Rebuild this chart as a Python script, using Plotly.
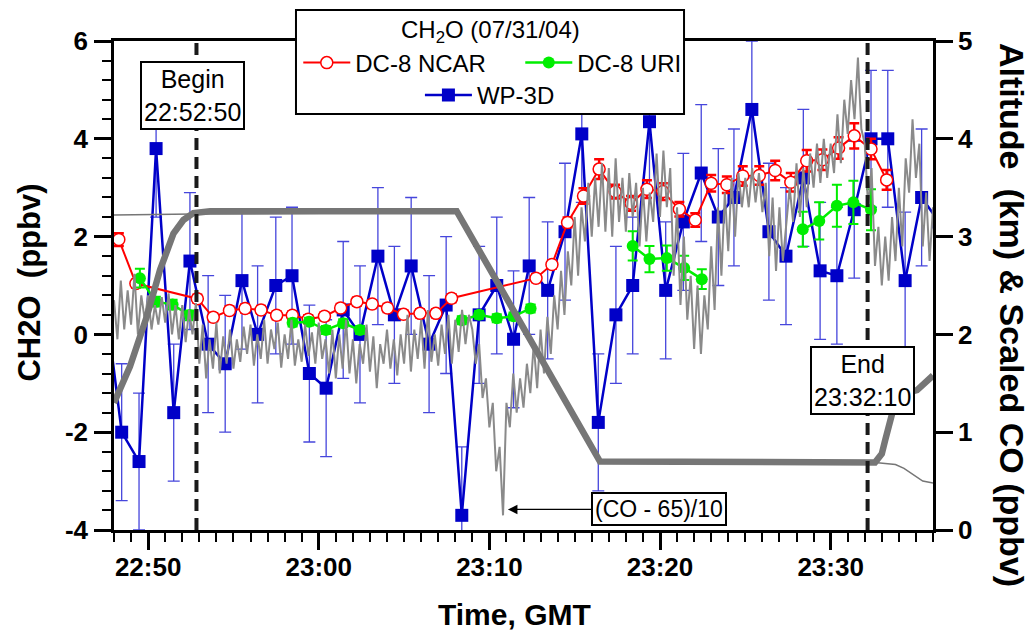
import plotly.graph_objects as go
import datetime as dt

DATE = "2004-07-31 "
FONT = "Liberation Sans, Arial, sans-serif"

# ---------------- data ----------------
# WP-3D CH2O (ppbv), left axis
wp3d_time = ["22:47:27", "22:48:27", "22:49:28", "22:50:28", "22:51:30", "22:52:27", "22:53:31",
             "22:54:31", "22:55:30", "22:56:25", "22:57:29", "22:58:26", "22:59:27", "23:00:26",
             "23:01:26", "23:02:25", "23:03:28", "23:04:26", "23:05:25", "23:06:28", "23:07:28",
             "23:08:23", "23:09:24", "23:10:26", "23:11:25", "23:12:20", "23:13:25", "23:14:26",
             "23:15:25", "23:16:23", "23:17:25", "23:18:24", "23:19:23", "23:20:20", "23:21:22",
             "23:22:25", "23:23:25", "23:24:20", "23:25:23", "23:26:23", "23:27:23", "23:28:24",
             "23:29:23", "23:30:22", "23:31:23", "23:32:22", "23:33:21", "23:34:22", "23:35:20",
             "23:36:21"]
wp3d_ch2o = [0.8, -2.0, -2.6, 3.8, -1.6, 1.5, -0.2, -0.6, 1.1, 0.0,
             1.0, 1.2, -0.8, -1.1, 0.5, 0.0, 1.6, 0.4, 1.4, -0.2,
             0.6, -3.7, 0.4, 1.0, -0.1, 1.4, 0.9, 2.1, 4.1, -1.8,
             0.4, 1.0, 4.35, 0.9, 2.3, 3.3, 2.4, 2.8, 4.6, 2.1,
             1.6, 3.2, 1.3, 1.2, 2.55, 4.0, 4.0, 1.1, 2.8, 2.3]
wp3d_err = 1.4

# DC-8 NCAR CH2O (ppbv), left axis
ncar_time = ["22:48:17", "22:49:17", "22:52:53", "22:53:49", "22:54:46", "22:55:41", "22:56:37",
             "22:57:32", "22:58:27", "22:59:23", "23:00:20", "23:01:17", "23:02:14", "23:03:08",
             "23:04:02", "23:04:58", "23:05:56", "23:06:52", "23:07:47",
             "23:12:44", "23:13:40", "23:14:35", "23:15:31", "23:16:26", "23:17:22", "23:18:18",
             "23:19:14", "23:20:10", "23:21:08", "23:22:04",
             "23:23:00", "23:23:55", "23:24:51", "23:25:49", "23:26:45", "23:27:40", "23:28:36",
             "23:29:31", "23:30:28", "23:31:23", "23:32:22", "23:33:17"]
ncar_ch2o = [1.94, 1.04, 0.73, 0.35, 0.49, 0.53, 0.50, 0.39, 0.39, 0.31, 0.37, 0.54, 0.67, 0.62,
             0.54, 0.41, 0.43, 0.43, 0.74,
             1.15, 1.43, 2.29, 2.83, 3.38, 2.92, 2.68, 2.97, 2.92, 2.56, 2.34,
             3.09, 3.06, 3.24, 3.25, 3.35, 3.11, 3.55, 3.57, 3.81, 4.06, 3.79, 3.16]
ncar_err = [0.13, 0.08, 0.08, 0.08, 0.08, 0.08, 0.08, 0.08, 0.08, 0.08, 0.08, 0.08, 0.08, 0.08,
            0.08, 0.08, 0.08, 0.08, 0.08,
            0.08, 0.08, 0.10, 0.16, 0.20, 0.14, 0.15, 0.18, 0.17, 0.15, 0.14,
            0.17, 0.17, 0.20, 0.19, 0.20, 0.19, 0.22, 0.21, 0.22, 0.26, 0.21, 0.20]

# DC-8 URI CH2O (ppbv), left axis; separate averaging legs
uri_time = ["22:49:31", "22:50:27", "22:51:26", "22:52:27",
            "22:58:28", "22:59:26", "23:00:25", "23:01:26", "23:02:25",
            "23:08:23", "23:09:24", "23:10:26", "23:11:25", "23:12:25",
            "23:18:24", "23:19:23", "23:20:24", "23:21:25", "23:22:27",
            "23:28:22", "23:29:20", "23:30:22", "23:31:20", "23:32:22"]
uri_leg = [1, 1, 1, 1, 2, 2, 2, 2, 2, 3, 3, 3, 3, 3, 4, 4, 4, 4, 4, 5, 5, 5, 5, 5]
uri_ch2o = [1.15, 0.67, 0.61, 0.39,
            0.24, 0.26, 0.09, 0.23, 0.09,
            0.29, 0.40, 0.33, 0.37, 0.53,
            1.81, 1.54, 1.56, 1.36, 1.13,
            2.15, 2.32, 2.63, 2.70, 2.55]
uri_err = [0.19, 0.10, 0.10, 0.10,
           0.08, 0.08, 0.08, 0.08, 0.08,
           0.08, 0.08, 0.08, 0.08, 0.08,
           0.30, 0.27, 0.26, 0.25, 0.20,
           0.36, 0.38, 0.43, 0.44, 0.42]
uri_half_interval_ms = 30000

# Altitude (km), right axis
alt_a_time = ["22:48:00", "22:48:56", "22:49:55", "22:50:42", "22:51:29", "22:52:04", "22:52:39",
              "22:53:38", "23:08:05", "23:16:29", "23:32:36", "23:33:00", "23:33:12", "23:33:36",
              "23:33:48", "23:34:24", "23:35:04", "23:36:00"]
alt_a_km = [1.30, 1.67, 2.18, 2.66, 3.03, 3.17, 3.24, 3.26, 3.26, 0.70, 0.69, 0.78, 0.92, 1.19,
            1.32, 1.40, 1.43, 1.58]
alt_b_time = ["22:48:00", "22:52:39", "23:08:05", "23:16:29", "23:32:36", "23:33:48", "23:34:18",
              "23:34:48", "23:35:24", "23:36:00"]
alt_b_km = [3.22, 3.23, 3.25, 0.69, 0.69, 0.67, 0.63, 0.57, 0.50, 0.48]

# (CO - 65)/10, right axis, one value every 12 s from 22:48:00
co_start = "22:48:00"
co_step_s = 12
co_scaled = [
    2.35, 1.95, 2.55, 2.05, 2.45, 2.10, 2.62, 2.00, 2.40, 2.15,
    2.40, 2.05, 2.30, 2.10, 2.38, 2.12, 2.42, 2.00, 2.30, 1.95,
    2.30, 1.92, 2.25, 2.00, 2.32, 1.70, 2.10, 1.55, 1.95, 1.65,
    2.12, 1.60, 1.98, 1.70, 2.05, 1.65, 1.95, 1.72, 2.08, 1.80,
    2.10, 1.68, 2.00, 1.75, 2.15, 1.70, 2.05, 1.85, 2.12, 1.66,
    2.00, 1.75, 2.15, 1.68, 1.95, 1.72, 2.10, 1.78, 2.02, 1.70,
    2.12, 1.75, 1.95, 1.60, 2.05, 1.55, 2.00, 1.65, 2.15, 1.60,
    1.95, 1.50, 1.90, 1.70, 2.10, 1.62, 1.98, 1.45, 1.90, 1.70,
    2.05, 1.65, 1.95, 1.58, 2.00, 1.70, 2.20, 1.62, 2.05, 1.75,
    2.15, 1.65, 2.25, 1.72, 2.00, 1.68, 2.10, 1.80, 2.20, 1.70,
    2.15, 1.82, 2.25, 1.90, 2.20, 2.05, 1.70, 1.90, 1.35, 1.55,
    1.05, 1.30, 0.60, 0.85, 0.15, 1.30, 1.05, 1.60, 1.20, 1.55,
    1.25, 1.70, 1.40, 1.90, 1.45, 2.05, 1.60, 2.18, 1.80, 2.40,
    2.05, 2.65, 2.20, 2.85, 2.50, 3.20, 2.60, 3.30, 2.95, 3.55,
    3.00, 3.60, 3.10, 3.75, 3.05, 3.70, 3.00, 3.80, 3.15, 3.60,
    3.05, 3.65, 3.20, 3.55, 2.90, 3.50, 2.95, 3.45, 3.15, 3.85,
    3.20, 3.88, 3.30, 3.70, 2.60, 3.30, 2.30, 3.00, 2.15, 2.60,
    1.85, 2.50, 1.80, 2.40, 2.05, 2.90, 2.25, 3.30, 2.60, 3.45,
    2.85, 3.60, 3.00, 3.65, 3.30, 3.60, 3.30, 3.70, 3.35, 3.65,
    3.25, 3.55, 2.80, 3.40, 2.65, 3.30, 2.75, 3.10, 3.50, 3.15,
    3.75, 3.20, 3.70, 3.30, 3.85, 3.50, 3.95, 3.55, 4.00, 3.60,
    3.95, 3.65, 4.25, 3.75, 4.40, 4.05, 4.60, 4.20, 4.83, 4.10,
    3.95, 3.30, 3.70, 2.70, 3.10, 2.50, 3.00, 2.55, 3.20, 2.75,
    3.50, 2.90, 3.80, 3.45, 4.20, 3.60, 3.95, 2.90, 3.45, 2.75,
    3.30]

begin_time = "22:52:50"
end_time = "23:32:10"

x_tick_labels = ["22:50", "23:00", "23:10", "23:20", "23:30"]
y_left_ticks = [-4, -2, 0, 2, 4, 6]
y_right_ticks = [0, 1, 2, 3, 4, 5]


# ---------------- helpers ----------------
def stamp(s):
    return DATE + s


def co_times():
    t0 = dt.datetime.strptime(DATE + co_start, "%Y-%m-%d %H:%M:%S")
    return [(t0 + dt.timedelta(seconds=co_step_s * i)).strftime("%Y-%m-%d %H:%M:%S")
            for i in range(len(co_scaled))]


def with_gaps(groups, *cols):
    out = [[] for _ in cols]
    prev = None
    for i, g in enumerate(groups):
        if prev is not None and g != prev:
            for o in out:
                o.append(None)
        for o, c in zip(out, cols):
            o.append(c[i])
        prev = g
    return out


BLUE = "#0000C8"
RED = "#FF0000"
GREEN = "#00EE00"
GRAY = "#8a8a8a"
ALT = "#767676"

fig = go.Figure()

# CO trace
fig.add_trace(go.Scatter(x=co_times(), y=co_scaled, yaxis="y2", mode="lines",
                         line=dict(color=GRAY, width=2), showlegend=False, hoverinfo="skip"))
# altitudes
fig.add_trace(go.Scatter(x=[stamp(t) for t in alt_b_time], y=alt_b_km, yaxis="y2", mode="lines",
                         line=dict(color=ALT, width=1.5), showlegend=False))
fig.add_trace(go.Scatter(x=[stamp(t) for t in alt_a_time], y=alt_a_km, yaxis="y2", mode="lines",
                         line=dict(color=ALT, width=6.5), showlegend=False))

# WP-3D
fig.add_trace(go.Scatter(
    x=[stamp(t) for t in wp3d_time], y=wp3d_ch2o, mode="lines+markers", name="WP-3D",
    line=dict(color=BLUE, width=2.5),
    marker=dict(symbol="square", size=13, color=BLUE, line=dict(width=0)),
    error_y=dict(type="constant", value=wp3d_err, color="#4646dc", thickness=1.3, width=6),
    legend="legend2"))

# DC-8 NCAR
fig.add_trace(go.Scatter(
    x=[stamp(t) for t in ncar_time], y=ncar_ch2o, mode="lines+markers", name="DC-8 NCAR",
    line=dict(color=RED, width=2),
    marker=dict(symbol="circle", size=12, color="white", line=dict(color=RED, width=1.5)),
    error_y=dict(type="data", array=ncar_err, color=RED, thickness=2.5, width=5),
    legend="legend"))

# DC-8 URI
ux, uy, ue = with_gaps(uri_leg, [stamp(t) for t in uri_time], uri_ch2o, uri_err)
fig.add_trace(go.Scatter(
    x=ux, y=uy, mode="lines+markers", name="DC-8 URI", connectgaps=False,
    line=dict(color=GREEN, width=2.5),
    marker=dict(symbol="circle", size=12, color=GREEN),
    error_y=dict(type="data", array=ue, color=GREEN, thickness=2, width=5),
    error_x=dict(type="constant", value=uri_half_interval_ms, color=GREEN, thickness=2, width=5),
    legend="legend"))

tickfont = dict(family=FONT, size=26, color="black", weight="bold")

fig.update_layout(
    width=1032, height=632, autosize=False,
    margin=dict(l=114, r=99, t=41, b=102),
    paper_bgcolor="white", plot_bgcolor="white",
    font=dict(family=FONT, color="black"),
    xaxis=dict(
        type="date", range=[stamp("22:48:00"), stamp("23:36:00")],
        tickvals=[stamp(t + ":00") for t in x_tick_labels], ticktext=x_tick_labels,
        ticks="outside", ticklen=17, tickwidth=2.5, tickcolor="black",
        showline=True, linewidth=2.5, linecolor="black", mirror=True,
        showgrid=False, zeroline=False, tickfont=tickfont, ticklabelstandoff=-5,
        minor=dict(dtick=60000, tick0=stamp("22:48:00"), ticks="outside", ticklen=9,
                   tickwidth=2, tickcolor="black", showgrid=False),
    ),
    yaxis=dict(
        range=[-4, 6], tickvals=y_left_ticks, ticktext=[str(v) for v in y_left_ticks],
        ticks="outside", ticklen=17, tickwidth=2.5, tickcolor="black",
        showline=True, linewidth=2.5, linecolor="black",
        showgrid=False, zeroline=False, tickfont=tickfont, ticklabelstandoff=1,
        minor=dict(dtick=0.4, tick0=-4, ticks="outside", ticklen=9, tickwidth=2,
                   tickcolor="black", showgrid=False),
    ),
    yaxis2=dict(
        range=[0, 5], overlaying="y", side="right", tickvals=y_right_ticks,
        ticktext=[str(v) for v in y_right_ticks], anchor="x",
        ticks="outside", ticklen=17, tickwidth=2.5, tickcolor="black",
        showline=True, linewidth=2.5, linecolor="black",
        showgrid=False, zeroline=False, tickfont=tickfont,
    ),
    legend=dict(orientation="h", x=0.225, xanchor="left", y=0.955, yanchor="middle",
                bgcolor="rgba(0,0,0,0)", borderwidth=0, font=dict(family=FONT, size=24),
                entrywidth=160, itemwidth=47, traceorder="normal"),
    legend2=dict(orientation="h", x=0.459, xanchor="center", y=0.889, yanchor="middle",
                 bgcolor="rgba(0,0,0,0)", borderwidth=0, font=dict(family=FONT, size=24),
                 itemwidth=47),
    showlegend=True,
)

# vertical begin/end markers
for t in (begin_time, end_time):
    fig.add_shape(type="line", xref="x", yref="paper", x0=stamp(t), x1=stamp(t), y0=0, y1=1,
                  line=dict(color="#1a1a1a", width=4, dash="12px,7px"), layer="above")

# legend frame
fig.add_shape(type="rect", xref="paper", yref="paper", x0=0.2222, x1=0.696, y0=0.8507, y1=1.0634,
              line=dict(color="black", width=2), fillcolor="white", layer="above")

ann_font = dict(family=FONT, size=25, color="black")
box = dict(showarrow=False, bgcolor="white", bordercolor="black", borderwidth=2, borderpad=2,
           xanchor="center", yanchor="middle")
fig.add_annotation(x=stamp("22:52:35"), y=4.885, xref="x", yref="y", text="Begin<br>22:52:50",
                   font=ann_font, **box)
fig.add_annotation(x=stamp("23:31:53"), y=-0.94, xref="x", yref="y", text="End<br>23:32:10",
                   font=ann_font, **box)
fig.add_annotation(x=stamp("23:11:05"), y=0.21, xref="x", yref="y2", text="(CO - 65)/10",
                   showarrow=True, ax=151, ay=0, arrowhead=2, arrowsize=1.6, arrowwidth=1.2,
                   arrowcolor="black", font=dict(family=FONT, size=23, color="black"),
                   bgcolor="white", bordercolor="black", borderwidth=2, borderpad=2)
# legend title
fig.add_annotation(x=0.4591, y=1.0204, xref="paper", yref="paper", xanchor="center",
                   yanchor="middle", text="CH<sub>2</sub>O (07/31/04)", showarrow=False,
                   font=dict(family=FONT, size=24, color="black"))
# axis titles
bold = dict(family=FONT, color="black", weight="bold")
fig.add_annotation(x=-0.1026, y=0.506, xref="paper", yref="paper", xanchor="center",
                   yanchor="middle", text="CH2O\u00a0 (ppbv)",
                   textangle=-90, showarrow=False, font=dict(bold, size=31))
fig.add_annotation(x=1.0965, y=0.4397, xref="paper", yref="paper", xanchor="center",
                   yanchor="middle", text="Altitude\u00a0 (km) &amp; Scaled CO (ppbv)",
                   textangle=90, showarrow=False, font=dict(bold, size=34))
fig.add_annotation(x=0.4893, y=-0.1718, xref="paper", yref="paper", xanchor="center",
                   yanchor="middle", text="Time, GMT",
                   showarrow=False, font=dict(bold, size=30))

fig.write_html("out.html")
